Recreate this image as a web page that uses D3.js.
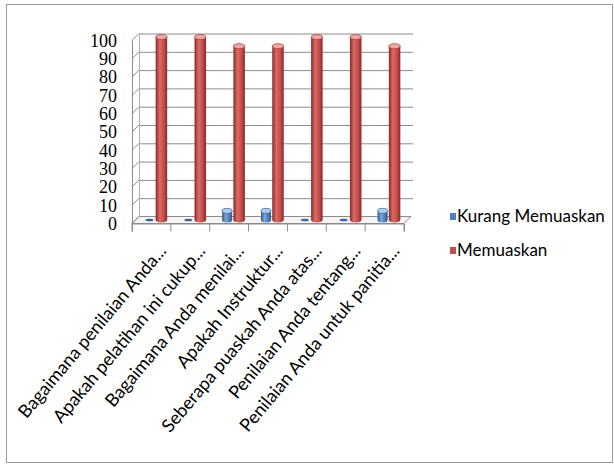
<!DOCTYPE html>
<html>
<head>
<meta charset="utf-8">
<script src="https://cdn.jsdelivr.net/npm/d3@7"></script>
<style>
  body { margin: 0; background: #fff; }
  svg { display: block; }
</style>
</head>
<body>
<div id="chart"></div>
<script>
const categories = [
    "Bagaimana penilaian Anda...",
    "Apakah pelatihan ini cukup...",
    "Bagaimana Anda menilai...",
    "Apakah Instruktur...",
    "Seberapa puaskah Anda atas...",
    "Penilaian Anda tentang...",
    "Penilaian Anda untuk panitia..."
];
const seriesNames = ["Kurang Memuaskan", "Memuaskan"];
const kurangValues = [0, 0, 5, 5, 0, 0, 5];
const memuaskanValues = [100, 100, 95, 95, 100, 100, 95];
const yTicks = [0, 10, 20, 30, 40, 50, 60, 70, 80, 90, 100];

const W = 614, H = 466;
const depth = { dx: 7, dy: -7 };

const svg = d3.select("#chart").append("svg")
    .attr("width", W)
    .attr("height", H);

// outer frame
svg.append("rect")
    .attr("x", 6.5).attr("y", 4.5)
    .attr("width", 606).attr("height", 458)
    .attr("fill", "#fff")
    .attr("stroke", "#9a9a9a")
    .attr("stroke-width", 1);

const x = d3.scaleBand().domain(categories).range([132, 404]);
const y = d3.scaleLinear().domain([0, 100]).range([223.5, 40.5]);
const yMid = v => y(v) + depth.dy / 2;

const defs = svg.append("defs");
function cylGrad(id, dark, mid, light) {
    const g = defs.append("linearGradient").attr("id", id)
        .attr("x1", "0%").attr("x2", "100%").attr("y1", "0%").attr("y2", "0%");
    g.append("stop").attr("offset", "0%").attr("stop-color", dark);
    g.append("stop").attr("offset", "35%").attr("stop-color", light);
    g.append("stop").attr("offset", "70%").attr("stop-color", mid);
    g.append("stop").attr("offset", "100%").attr("stop-color", dark);
}
cylGrad("gRed", "#8a2724", "#c0504d", "#dc6a66");
cylGrad("gBlue", "#2b5686", "#4f81bd", "#7ea5d6");

// floor
const f0 = y(0);
svg.append("path")
    .attr("d", `M${x.range()[0]},${f0} L${x.range()[1]},${f0} L${x.range()[1] + depth.dx},${f0 + depth.dy} L${x.range()[0] + depth.dx},${f0 + depth.dy} Z`)
    .attr("fill", "#f4f4f4")
    .attr("stroke", "#8c8c8c")
    .attr("stroke-width", 1);

// grid on back wall + left wall
const grid = svg.append("g");
grid.selectAll(".gb")
    .data(yTicks.filter(d => d > 0))
    .enter()
    .append("line")
    .attr("x1", x.range()[0] + depth.dx)
    .attr("x2", x.range()[1] + depth.dx + 2)
    .attr("y1", d => y(d) + depth.dy + 0.5)
    .attr("y2", d => y(d) + depth.dy + 0.5)
    .attr("stroke", "#8c8c8c")
    .attr("stroke-width", 1);
grid.selectAll(".gl")
    .data(yTicks)
    .enter()
    .append("line")
    .attr("x1", x.range()[0])
    .attr("x2", x.range()[0] + depth.dx)
    .attr("y1", d => y(d))
    .attr("y2", d => y(d) + depth.dy)
    .attr("stroke", "#8c8c8c")
    .attr("stroke-width", 1);
grid.append("line")
    .attr("x1", x.range()[0] + 0.5).attr("x2", x.range()[0] + 0.5)
    .attr("y1", y(100)).attr("y2", y(0))
    .attr("stroke", "#8c8c8c");
grid.append("line")
    .attr("x1", x.range()[0] + depth.dx + 0.5).attr("x2", x.range()[0] + depth.dx + 0.5)
    .attr("y1", y(100) + depth.dy).attr("y2", y(0) + depth.dy)
    .attr("stroke", "#b0b0b0");

// y axis labels
svg.append("g")
    .selectAll("text")
    .data(yTicks)
    .enter()
    .append("text")
    .attr("x", 117)
    .attr("y", d => y(d))
    .attr("dy", "0.35em")
    .attr("text-anchor", "end")
    .style("font-family", "'Liberation Serif', 'DejaVu Serif', serif")
    .style("font-size", "18px")
    .style("fill", "#000")
    .text(d => d);

// category ticks on front edge
svg.append("g")
    .attr("transform", `translate(0, ${y(0)})`)
    .call(d3.axisBottom(x).tickSize(8).tickFormat("").tickSizeOuter(8))
    .call(g => g.select(".domain").attr("stroke", "#8c8c8c"))
    .call(g => g.selectAll(".tick line").attr("stroke", "#8c8c8c").attr("transform", `translate(${-x.bandwidth() / 2},0)`));
svg.append("line")
    .attr("x1", x.range()[1]).attr("x2", x.range()[1])
    .attr("y1", y(0)).attr("y2", y(0) + 8)
    .attr("stroke", "#8c8c8c");

// bars as cylinders
const offsets = { "Kurang Memuaskan": -2, "Memuaskan": 10 };
const widths = { "Kurang Memuaskan": 10, "Memuaskan": 11.5 };
const bars = [];
categories.forEach((c, i) => {
    bars.push({ cat: c, s: "Kurang Memuaskan", v: kurangValues[i] });
    bars.push({ cat: c, s: "Memuaskan", v: memuaskanValues[i] });
});
const barG = svg.append("g");
bars.forEach(d => {
    const cx = x(d.cat) + x.bandwidth() / 2 + offsets[d.s];
    const w = widths[d.s];
    const isRed = d.s === "Memuaskan";
    const top = yMid(d.v), base = yMid(0);
    if (d.v === 0) {
        barG.append("ellipse")
            .attr("cx", cx).attr("cy", base)
            .attr("rx", w / 2 - 1).attr("ry", 1.3)
            .attr("fill", "#3a6799");
        return;
    }
    barG.append("path")
        .attr("d", `M${cx - w / 2},${top} L${cx - w / 2},${base} A${w / 2},2.5 0 0 0 ${cx + w / 2},${base} L${cx + w / 2},${top} Z`)
        .attr("fill", isRed ? "url(#gRed)" : "url(#gBlue)");
    barG.append("ellipse")
        .attr("cx", cx).attr("cy", top)
        .attr("rx", w / 2).attr("ry", 2.5)
        .attr("fill", isRed ? "#eba8a5" : "#b3cbe9")
        .attr("stroke", isRed ? "#b8403c" : "#3f6fa8")
        .attr("stroke-width", 0.8);
});

// category labels
svg.append("g")
    .selectAll("text")
    .data(categories)
    .enter()
    .append("text")
    .attr("transform", d => `translate(${x(d) + x.bandwidth() / 2 + 11}, ${y(0) + 24}) rotate(-50)`)
    .attr("text-anchor", "end")
    .attr("dy", "0.35em")
    .style("font-family", "Lato, 'Open Sans', sans-serif")
    .style("font-size", "18px")
    .style("fill", "#000")
    .text(d => d);

// legend
const legend = svg.append("g");
const legendColors = ["#4f81bd", "#c0504d"];
seriesNames.forEach((s, i) => {
    const ly = 222 + i * 34;
    legend.append("rect")
        .attr("x", 450).attr("y", ly - 9)
        .attr("width", 6).attr("height", 7)
        .attr("fill", legendColors[i]);
    legend.append("text")
        .attr("x", 457).attr("y", ly)
        .style("font-family", "Lato, 'Open Sans', sans-serif")
        .style("font-size", "17px")
        .style("fill", "#000")
        .text(s);
});
</script>
</body>
</html>
